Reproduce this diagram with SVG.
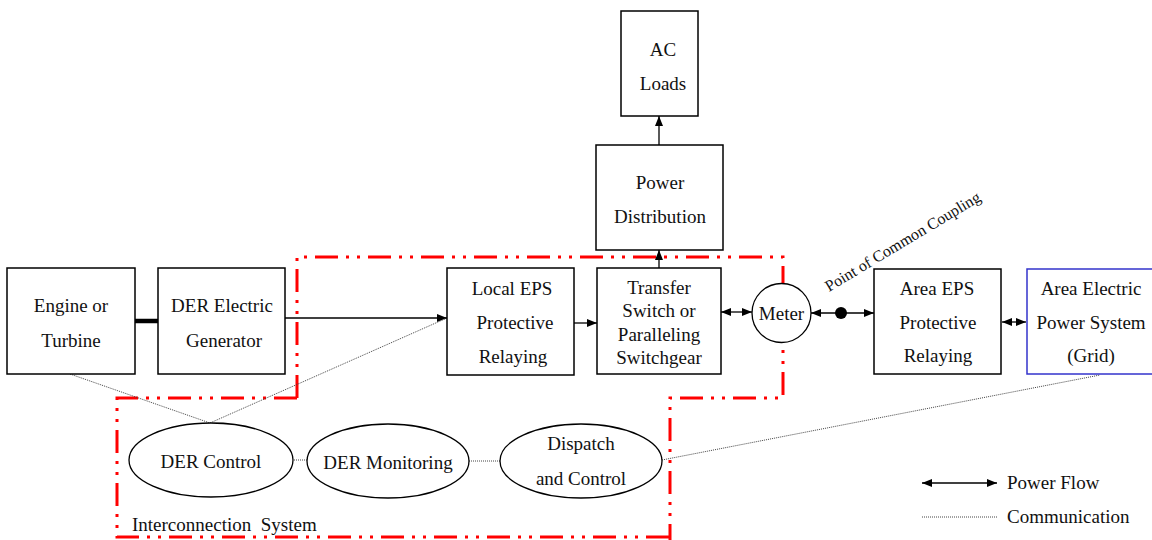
<svg xmlns="http://www.w3.org/2000/svg" width="1152" height="540" viewBox="0 0 1152 540">
<style>
.box{fill:#fff;stroke:#000;stroke-width:1.5}
.grid{fill:#fff;stroke:#3333cc;stroke-width:1.5}
.ell{fill:#fff;stroke:#000;stroke-width:1.3}
text{font-size:19px;fill:#111;text-anchor:middle}
.pf{stroke:#000;stroke-width:1.3;fill:none}
.comm{stroke:#444;stroke-width:1;stroke-dasharray:1 1;fill:none}
.red{stroke:#ff0000;stroke-width:3;fill:none;stroke-dasharray:23 8 3 8 3 8}
</style>
<defs>
<marker id="ah" markerUnits="userSpaceOnUse" markerWidth="10" markerHeight="10" viewBox="0 0 10 10" refX="10" refY="5" orient="auto-start-reverse">
<path d="M0,1 L10,5 L0,9 Z" fill="#000"/>
</marker>
</defs>
<g id="boundary">
<polyline class="red" points="297,398 297,257 783,257 783,398 670,398 670,540"/>
<polyline class="red" points="297,398 117,398 117,537 670,537"/>
</g>
<g id="connectors">
<line x1="135" y1="321" x2="158" y2="321" stroke="#000" stroke-width="4.5"/>
<line class="pf" x1="285" y1="318" x2="447" y2="318" marker-end="url(#ah)"/>
<line class="pf" x1="574" y1="323" x2="597" y2="323" marker-end="url(#ah)"/>
<line class="pf" x1="659" y1="268" x2="659" y2="250" marker-end="url(#ah)"/>
<line class="pf" x1="659" y1="145" x2="659" y2="116" marker-end="url(#ah)"/>
<line class="pf" x1="721" y1="312" x2="752" y2="312" marker-start="url(#ah)" marker-end="url(#ah)"/>
<line class="pf" x1="811" y1="313" x2="874" y2="313" marker-start="url(#ah)" marker-end="url(#ah)"/>
<circle cx="841" cy="313" r="6" fill="#000"/>
<line class="pf" x1="1002" y1="322" x2="1026" y2="322" marker-start="url(#ah)" marker-end="url(#ah)"/>
<line class="comm" x1="70" y1="374" x2="210" y2="423"/>
<line class="comm" x1="210" y1="423" x2="447" y2="318"/>
<line class="comm" x1="292" y1="460" x2="307" y2="460"/>
<line class="comm" x1="469" y1="461" x2="500" y2="461"/>
<line class="comm" x1="662" y1="460" x2="1100" y2="375"/>
</g>
<g font-family="'Liberation Serif', 'Times New Roman', 'DejaVu Serif', serif">
<g id="engine"><rect class="box" x="7" y="268" width="128" height="106"/><text x="71" y="312">Engine or</text><text x="71" y="347">Turbine</text></g>
<g id="generator"><rect class="box" x="158" y="268" width="127" height="106"/><text x="222" y="312">DER Electric</text><text x="224" y="347">Generator</text></g>
<g id="local-eps"><rect class="box" x="447" y="268" width="127" height="107"/><text x="512" y="295">Local EPS</text><text x="515" y="329">Protective</text><text x="513" y="363">Relaying</text></g>
<g id="transfer"><rect class="box" x="597" y="268" width="124" height="106"/><text x="659" y="294">Transfer</text><text x="659" y="317">Switch or</text><text x="659" y="341">Paralleling</text><text x="659" y="364">Switchgear</text></g>
<g id="power-dist"><rect class="box" x="596" y="145" width="127" height="105"/><text x="660" y="189">Power</text><text x="660" y="223">Distribution</text></g>
<g id="ac-loads"><rect class="box" x="621" y="11" width="77" height="105"/><text x="663" y="56">AC</text><text x="663" y="90">Loads</text></g>
<g id="meter"><circle class="ell" cx="781.5" cy="313" r="29.5"/><text x="781.5" y="320">Meter</text></g>
<g id="area-eps"><rect class="box" x="874" y="269" width="127" height="105"/><text x="937" y="295">Area EPS</text><text x="938" y="329">Protective</text><text x="938" y="362">Relaying</text></g>
<g id="grid"><rect class="grid" x="1027" y="269" width="128" height="105"/><text x="1091" y="295">Area Electric</text><text x="1091" y="329">Power System</text><text x="1091" y="362">(Grid)</text></g>
<g id="pcc"><text x="0" y="0" transform="translate(829,292) rotate(-31)" style="font-size:16px;text-anchor:start">Point of Common Coupling</text></g>
<g id="der-control"><ellipse class="ell" cx="211" cy="460" rx="82" ry="37"/><text x="211" y="468">DER Control</text></g>
<g id="der-monitoring"><ellipse class="ell" cx="388" cy="461" rx="81" ry="37"/><text x="388" y="469">DER Monitoring</text></g>
<g id="dispatch"><ellipse class="ell" cx="581" cy="461" rx="81" ry="37"/><text x="581" y="450">Dispatch</text><text x="581" y="485">and Control</text></g>
<g id="interconnection-label"><text x="132" y="531" style="text-anchor:start" xml:space="preserve">Interconnection  System</text></g>
<g id="legend">
<line class="pf" x1="922" y1="483" x2="997" y2="483" marker-start="url(#ah)" marker-end="url(#ah)"/>
<text x="1007" y="489" style="text-anchor:start">Power Flow</text>
<line class="comm" x1="922" y1="517" x2="997" y2="517"/>
<text x="1007" y="523" style="text-anchor:start">Communication</text>
</g>
</g>
</svg>
